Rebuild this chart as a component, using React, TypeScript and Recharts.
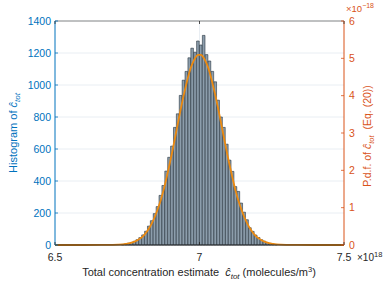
import React from "react";
import { ComposedChart, Bar, Line, XAxis, YAxis, CartesianGrid, ReferenceLine } from "recharts";

// histogram bins (units of 1e18 molecules/m^3)
const binCenters = [
  6.735, 6.745, 6.755, 6.765, 6.775, 6.785, 6.795, 6.805, 6.815, 6.825, 6.835, 6.845, 6.855, 6.865,
  6.875, 6.885, 6.895, 6.905, 6.915, 6.925, 6.935, 6.945, 6.955, 6.965, 6.975, 6.985, 6.995,
  7.005, 7.015, 7.025, 7.035, 7.045, 7.055, 7.065, 7.075, 7.085, 7.095, 7.105, 7.115, 7.125,
  7.135, 7.145, 7.155, 7.165, 7.175, 7.185, 7.195, 7.205, 7.215, 7.225, 7.235, 7.245, 7.255, 7.265,
];
const binCounts = [
  4, 7, 11, 16, 23, 33, 46, 63, 86, 118, 152, 196, 240, 310, 372, 462, 548, 618, 735, 820, 935, 1030,
  1085, 1170, 1230, 1205, 1275,
  1250, 1310, 1190, 1150, 1085, 1020, 905, 800, 735, 630, 530, 460, 365, 335, 262, 205, 158, 108, 85,
  62, 47, 33, 24, 16, 10, 6, 4,
];

// p.d.f. curve (units of 1e-18)
const pdfX = [
  6.5, 6.6, 6.7,
  6.735, 6.745, 6.755, 6.765, 6.775, 6.785, 6.795, 6.805, 6.815, 6.825, 6.835, 6.845, 6.855, 6.865,
  6.875, 6.885, 6.895, 6.905, 6.915, 6.925, 6.935, 6.945, 6.955, 6.965, 6.975, 6.985, 6.995,
  7.005, 7.015, 7.025, 7.035, 7.045, 7.055, 7.065, 7.075, 7.085, 7.095, 7.105, 7.115, 7.125,
  7.135, 7.145, 7.155, 7.165, 7.175, 7.185, 7.195, 7.205, 7.215, 7.225, 7.235, 7.245, 7.255, 7.265,
  7.3, 7.4, 7.5,
];
const pdfY = [
  0, 0.0005, 0.004,
  0.018, 0.028, 0.041, 0.062, 0.089, 0.126, 0.177, 0.24, 0.33, 0.44, 0.58, 0.75, 0.95, 1.18,
  1.45, 1.77, 2.11, 2.47, 2.86, 3.25, 3.64, 4.0, 4.33, 4.63, 4.85, 5.01, 5.09,
  5.09, 5.01, 4.85, 4.63, 4.33, 4.0, 3.64, 3.25, 2.86, 2.47, 2.11, 1.77, 1.45,
  1.18, 0.95, 0.75, 0.58, 0.44, 0.33, 0.24, 0.177, 0.126, 0.089, 0.062, 0.041, 0.028, 0.018,
  0.004, 0.0005, 0,
];

const xTicks = [6.5, 7, 7.5];
const countTicks = [0, 200, 400, 600, 800, 1000, 1200, 1400];
const pdfTicks = [0, 1, 2, 3, 4, 5, 6];

const BLUE = "#0072BD";
const RED = "#D95319";
const CURVE = "#EC8A10";
const DARK = "#262626";
const FONT = "'Liberation Sans', Arial, sans-serif";
const PLOT_TOP = 21;

const rows = pdfX.map((x, i) => {
  const j = binCenters.indexOf(x);
  return { x, pdf: pdfY[i], count: j >= 0 ? binCounts[j] : null };
});

const LeftTick = ({ x, y, payload }: any) => (
  <g>
    <line x1={x + 4} x2={x + 7} y1={y} y2={y} stroke={BLUE} strokeWidth={0.8} />
    <text x={x} y={y} dy="0.36em" textAnchor="end" fill={BLUE} fontSize={10.5} fontFamily={FONT}>
      {payload.value}
    </text>
  </g>
);

const RightTick = ({ x, y, payload }: any) => (
  <g>
    <line x1={x - 5} x2={x - 8} y1={y} y2={y} stroke={RED} strokeWidth={0.8} />
    <text x={x} y={y} dy="0.36em" textAnchor="start" fill={RED} fontSize={10.5} fontFamily={FONT}>
      {payload.value}
    </text>
  </g>
);

const BottomTick = ({ x, y, payload }: any) => (
  <g>
    <line x1={x} x2={x} y1={y - 8} y2={y - 11} stroke={DARK} strokeWidth={0.8} />
    <line x1={x} x2={x} y1={PLOT_TOP} y2={PLOT_TOP + 3} stroke={DARK} strokeWidth={0.8} />
    <text x={x} y={y} dy="0.72em" textAnchor="middle" fill={DARK} fontSize={10.5} fontFamily={FONT}>
      {payload.value}
    </text>
  </g>
);

export default function App() {
  return (
    <div style={{ position: "absolute", left: 0, top: 0, width: 392, height: 284, background: "#fff" }}>
      <ComposedChart
        width={392}
        height={284}
        data={rows}
        margin={{ top: PLOT_TOP, right: 18, bottom: 19, left: 15 }}
      >
        <CartesianGrid yAxisId="left" stroke="#e9eef3" strokeWidth={1} verticalValues={[7]} />
        <XAxis
          type="number"
          dataKey="x"
          domain={[6.5, 7.5]}
          ticks={xTicks}
          allowDataOverflow
          height={20}
          tickSize={0}
          tickMargin={8}
          tick={<BottomTick />}
          stroke={DARK}
        />
        <YAxis
          yAxisId="left"
          domain={[0, 1400]}
          ticks={countTicks}
          interval={0}
          width={40}
          tickSize={0}
          tickMargin={4}
          tick={<LeftTick />}
          stroke={BLUE}
        />
        <YAxis
          yAxisId="right"
          orientation="right"
          domain={[0, 6]}
          ticks={pdfTicks}
          interval={0}
          width={30}
          tickSize={0}
          tickMargin={5}
          tick={<RightTick />}
          stroke={RED}
        />
        <ReferenceLine yAxisId="left" y={1400} stroke="#8a8a8a" strokeWidth={1} />
        <Bar
          yAxisId="left"
          dataKey="count"
          barSize={2.9}
          fill="#8d9eac"
          stroke="#25323e"
          strokeWidth={0.6}
          isAnimationActive={false}
        />
        <Line
          yAxisId="right"
          dataKey="pdf"
          type="monotone"
          stroke={CURVE}
          strokeWidth={1.8}
          dot={false}
          connectNulls
          isAnimationActive={false}
        />
      </ComposedChart>
      <svg
        width={392}
        height={284}
        style={{ position: "absolute", left: 0, top: 0, pointerEvents: "none" }}
        fontFamily={FONT}
      >
        <text transform="translate(16.5,133) rotate(-90)" textAnchor="middle" fill={BLUE} fontSize={11}>
          Histogram of <tspan fontStyle="italic">ĉ</tspan>
          <tspan fontStyle="italic" fontSize={8} dy={3}>tot</tspan>
        </text>
        <text transform="translate(371,136) rotate(-90)" textAnchor="middle" fill={RED} fontSize={10.5}>
          P.d.f. of <tspan fontStyle="italic">ĉ</tspan>
          <tspan fontStyle="italic" fontSize={7.5} dy={3}>tot</tspan>
          <tspan dy={-3} dx={6}>(Eq. (20))</tspan>
        </text>
        <text x={199} y={276} textAnchor="middle" fill={DARK} fontSize={11}>
          Total concentration estimate <tspan dx={3} fontStyle="italic">ĉ</tspan>
          <tspan fontStyle="italic" fontSize={8} dy={3}>tot</tspan>
          <tspan dy={-3}> (molecules/m</tspan>
          <tspan fontSize={7.5} dy={-4}>3</tspan>
          <tspan dy={4}>)</tspan>
        </text>
        <text x={346} y={12} fill={RED} fontSize={9.5}>
          ×10<tspan fontSize={7} dy={-4}>−18</tspan>
        </text>
        <text x={357} y={261} fill={DARK} fontSize={10}>
          ×10<tspan fontSize={7.5} dy={-4}>18</tspan>
        </text>
      </svg>
    </div>
  );
}
